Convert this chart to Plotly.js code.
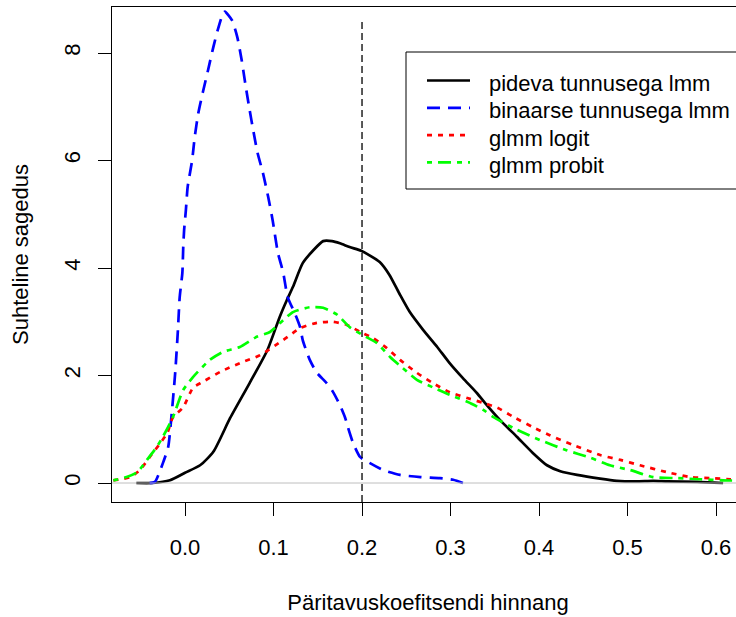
<!DOCTYPE html>
<html>
<head>
<meta charset="utf-8">
<script src="https://cdn.plot.ly/plotly-3.0.1.min.js"></script>
<style>
html, body { margin: 0; padding: 0; overflow: hidden; background: #ffffff; width: 736px; height: 617px; }
#chart { width: 800px; height: 617px; }
</style>
</head>
<body>
<div id="chart"></div>
<script>
// ---- data ----
const seriesNames = ["pideva tunnusega lmm", "binaarse tunnusega lmm", "glmm logit", "glmm probit"];
const seriesColors = ["#000000", "#0000ff", "#ff0000", "#00ff00"];
const seriesDash = ["solid", "13px,8px", "5px,6px", "5px,6px,13px,6px"];

const pidevaX = [-0.055, -0.037, -0.017, 0.000, 0.017, 0.032, 0.051, 0.073, 0.093, 0.107, 0.115, 0.122, 0.133, 0.145, 0.156, 0.166, 0.175, 0.186, 0.199, 0.208, 0.220, 0.231, 0.242, 0.254, 0.269, 0.285, 0.299, 0.314, 0.330, 0.341, 0.356, 0.375, 0.393, 0.409, 0.424, 0.443, 0.469, 0.488, 0.510, 0.529, 0.545, 0.579, 0.608];
const pidevaY = [0, 0, 0.05, 0.19, 0.33, 0.58, 1.21, 1.86, 2.47, 3.09, 3.40, 3.65, 4.09, 4.33, 4.50, 4.50, 4.46, 4.39, 4.32, 4.24, 4.11, 3.87, 3.53, 3.18, 2.85, 2.53, 2.23, 1.95, 1.67, 1.45, 1.17, 0.86, 0.56, 0.33, 0.22, 0.15, 0.08, 0.04, 0.03, 0.04, 0.03, 0.02, 0.0];

const binaarneX = [-0.040, -0.034, -0.025, -0.019, -0.015, -0.011, -0.008, -0.006, -0.003, -0.002, -0.001, 0.001, 0.003, 0.008, 0.011, 0.015, 0.020, 0.026, 0.032, 0.037, 0.043, 0.045, 0.053, 0.059, 0.064, 0.068, 0.073, 0.077, 0.082, 0.088, 0.094, 0.099, 0.105, 0.111, 0.116, 0.124, 0.130, 0.133, 0.141, 0.149, 0.160, 0.167, 0.175, 0.181, 0.184, 0.190, 0.198, 0.209, 0.224, 0.243, 0.266, 0.288, 0.303, 0.314];
const binaarneY = [0, 0.02, 0.37, 0.67, 1.30, 2.07, 2.85, 3.46, 3.91, 4.39, 4.71, 5.08, 5.51, 6.00, 6.44, 6.88, 7.26, 7.68, 8.11, 8.43, 8.74, 8.77, 8.61, 8.30, 7.87, 7.44, 6.94, 6.57, 6.14, 5.77, 5.32, 4.89, 4.28, 3.91, 3.46, 3.16, 2.90, 2.66, 2.29, 2.05, 1.86, 1.70, 1.45, 1.21, 1.04, 0.74, 0.48, 0.37, 0.24, 0.15, 0.11, 0.09, 0.06, 0.0];

const logitX = [-0.081, -0.062, -0.051, -0.040, -0.028, -0.020, -0.014, -0.002, 0.009, 0.020, 0.040, 0.062, 0.085, 0.111, 0.130, 0.149, 0.167, 0.183, 0.198, 0.212, 0.228, 0.243, 0.262, 0.280, 0.299, 0.319, 0.337, 0.353, 0.371, 0.393, 0.412, 0.438, 0.469, 0.492, 0.514, 0.545, 0.571, 0.593, 0.616, 0.650];
const logitY = [0.05, 0.11, 0.24, 0.48, 0.74, 0.93, 1.21, 1.41, 1.77, 1.88, 2.07, 2.23, 2.38, 2.66, 2.88, 2.98, 3.00, 2.94, 2.81, 2.70, 2.51, 2.29, 2.05, 1.86, 1.69, 1.58, 1.49, 1.40, 1.23, 1.04, 0.89, 0.71, 0.52, 0.43, 0.33, 0.20, 0.11, 0.09, 0.07, 0.04];

const probitX = [-0.081, -0.066, -0.054, -0.043, -0.032, -0.025, -0.014, -0.002, 0.009, 0.028, 0.043, 0.062, 0.081, 0.096, 0.111, 0.122, 0.141, 0.156, 0.172, 0.186, 0.201, 0.217, 0.232, 0.246, 0.262, 0.280, 0.299, 0.319, 0.337, 0.348, 0.375, 0.401, 0.431, 0.458, 0.480, 0.503, 0.529, 0.556, 0.582, 0.608, 0.650];
const probitY = [0.05, 0.11, 0.20, 0.43, 0.67, 0.86, 1.21, 1.73, 1.97, 2.29, 2.44, 2.53, 2.72, 2.81, 3.03, 3.18, 3.27, 3.26, 3.13, 2.90, 2.75, 2.60, 2.34, 2.14, 1.92, 1.78, 1.64, 1.51, 1.36, 1.23, 0.99, 0.80, 0.61, 0.47, 0.33, 0.24, 0.11, 0.09, 0.07, 0.05, 0.04];

const xTickVals = [0, 0.1, 0.2, 0.3, 0.4, 0.5, 0.6];
const xTickText = ["0.0", "0.1", "0.2", "0.3", "0.4", "0.5", "0.6"];
const yTickVals = [0, 2, 4, 6, 8];
const yTickText = ["0", "2", "4", "6", "8"];

const refLineX = 0.2;      // vertical dashed reference line
const refLineTop = 8.58;   // where that line ends at the top
const xTitle = "Päritavuskoefitsendi hinnang";
const yTitle = "Suhteline sagedus";

// ---- layout geometry ----
const W = 800, H = 617;
const M = { l: 112, r: 56, t: 7, b: 115 };
const plotW = W - M.l - M.r, plotH = H - M.t - M.b;
const xRange = [-0.0825, 0.6316];
const yRange = [-0.3535, 8.856];
const px2paperX = px => (px - M.l) / plotW;
const px2paperY = py => (H - M.b - py) / plotH;

const FONT = "Liberation Sans, Arial, Helvetica, sans-serif";
const FS = 22;

const allX = [pidevaX, binaarneX, logitX, probitX];
const allY = [pidevaY, binaarneY, logitY, probitY];

const traces = allX.map((xs, i) => ({
  type: "scatter", mode: "lines", name: seriesNames[i],
  x: xs, y: allY[i], showlegend: false, hoverinfo: "skip",
  line: { color: seriesColors[i], width: 2.7, dash: seriesDash[i], shape: "spline", smoothing: 0.6 }
}));

const shapes = [
  { type: "line", xref: "paper", x0: 0, x1: 1, yref: "y", y0: 0, y1: 0,
    line: { color: "#bebebe", width: 1 }, layer: "above" },
  { type: "line", xref: "x", x0: refLineX, x1: refLineX, yref: "y", y0: yRange[0], y1: refLineTop,
    line: { color: "#000000", width: 1.3, dash: "7px,4px" }, layer: "above" }
];
const annotations = [];

// legend box, drawn like the R legend
const LG = { left: 406, top: 52, right: 741, bottom: 189, s0: 427, s1: 470, text: 487, row0: 80.5, step: 27.3, textDy: 3 };
shapes.push({ type: "rect", xref: "paper", yref: "paper",
  x0: px2paperX(LG.left), x1: px2paperX(LG.right), y0: px2paperY(LG.bottom), y1: px2paperY(LG.top),
  line: { color: "#000000", width: 1 }, fillcolor: "#ffffff", layer: "above" });
seriesNames.forEach((nm, i) => {
  const ry = LG.row0 + i * LG.step;
  shapes.push({ type: "line", xref: "paper", yref: "paper",
    x0: px2paperX(LG.s0), x1: px2paperX(LG.s1), y0: px2paperY(ry), y1: px2paperY(ry),
    line: { color: seriesColors[i], width: 2.7, dash: seriesDash[i] }, layer: "above" });
  annotations.push({ xref: "paper", yref: "paper", x: px2paperX(LG.text), y: px2paperY(ry + LG.textDy),
    xanchor: "left", yanchor: "middle", text: nm, showarrow: false,
    font: { family: FONT, size: FS, color: "#000000" } });
});

const axisCommon = {
  showgrid: false, zeroline: false, showline: true, mirror: true,
  linecolor: "#000000", linewidth: 1, ticks: "outside", ticklen: 13, tickwidth: 1, tickcolor: "#000000",
  tickfont: { family: FONT, size: FS, color: "#000000" }, automargin: false, fixedrange: true
};

const layout = {
  width: W, height: H, margin: M,
  paper_bgcolor: "#ffffff", plot_bgcolor: "#ffffff",
  font: { family: FONT, size: FS, color: "#000000" },
  showlegend: false,
  xaxis: Object.assign({}, axisCommon, {
    range: xRange, tickmode: "array", tickvals: xTickVals, ticktext: xTickText,
    ticklabelstandoff: 13,
    title: { text: xTitle, font: { family: FONT, size: FS, color: "#000000" }, standoff: 35 }
  }),
  yaxis: Object.assign({}, axisCommon, {
    range: yRange, tickmode: "array", tickvals: yTickVals, ticktext: yTickText,
    tickangle: -90, ticklabelstandoff: 9,
    title: { text: yTitle, font: { family: FONT, size: FS, color: "#000000" }, standoff: 25 }
  }),
  shapes: shapes, annotations: annotations
};

Plotly.newPlot("chart", traces, layout, { staticPlot: true, responsive: false, displayModeBar: false });
</script>
</body>
</html>
